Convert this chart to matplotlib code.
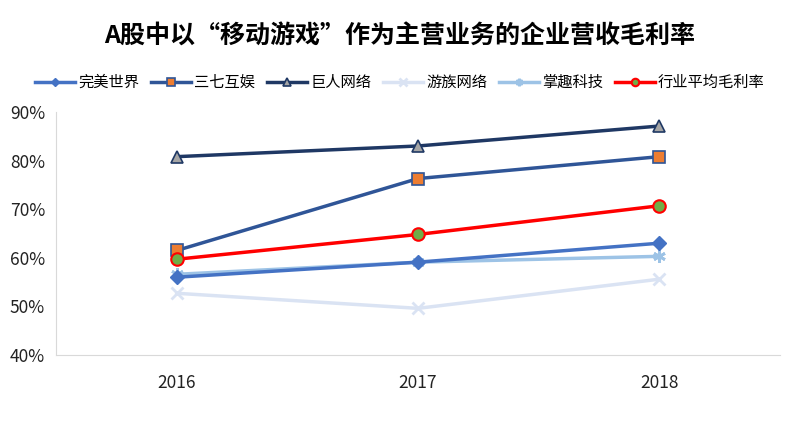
import matplotlib.pyplot as plt
from matplotlib.ticker import PercentFormatter

plt.rcParams['font.family'] = ['Noto Sans CJK SC', 'DejaVu Sans']

years = ['2016', '2017', '2018']
wanmei = [56.0, 59.1, 63.0]
sanqi = [61.5, 76.3, 80.8]
juren = [80.8, 83.0, 87.1]
youzu = [52.7, 49.6, 55.6]
zhangqu = [56.6, 59.1, 60.3]
avg = [59.7, 64.8, 70.7]

fig = plt.figure(figsize=(8, 4.46), dpi=100)
ax = fig.add_axes([0.07, 0.204, 0.905, 0.545])
x = range(len(years))

ax.plot(x, wanmei, color='#4472C4', lw=2.5, marker='D', ms=7,
        mfc='#4472C4', mec='#4472C4', label='完美世界', zorder=4)
ax.plot(x, sanqi, color='#2F5597', lw=2.5, marker='s', ms=9,
        mfc='#ED7D31', mec='#2F5597', mew=1.2, label='三七互娱', zorder=5)
ax.plot(x, juren, color='#1F3864', lw=2.5, marker='^', ms=9,
        mfc='#A5A5A5', mec='#1F3864', mew=1.2, label='巨人网络', zorder=5)
ax.plot(x, youzu, color='#DAE3F3', lw=2.5, marker='x', ms=9, mew=2,
        mec='#DAE3F3', label='游族网络', zorder=3)
ax.plot(x, zhangqu, color='#9DC3E6', lw=2.5, marker=(6, 2, 0), ms=9, mew=2,
        mec='#9DC3E6', label='掌趣科技', zorder=3)
ax.plot(x, avg, color='#FF0000', lw=2.5, marker='o', ms=9,
        mfc='#70AD47', mec='#FF0000', mew=1.5, label='行业平均毛利率', zorder=6)

ax.set_xlim(-0.5, 2.5)
ax.set_ylim(40, 90)
ax.set_xticks(list(x))
ax.set_xticklabels(years)
ax.yaxis.set_major_formatter(PercentFormatter(decimals=0))
ax.tick_params(length=0, colors='#222222')
ax.tick_params(axis='x', pad=14, labelsize=12.5)
ax.tick_params(axis='y', pad=8, labelsize=12.5)
for s in ['top', 'right']:
    ax.spines[s].set_visible(False)
for s in ['left', 'bottom']:
    ax.spines[s].set_color('#D9D9D9')

fig.suptitle('A股中以“移动游戏”作为主营业务的企业营收毛利率', x=0.5, y=0.945,
             fontsize=18, fontweight='bold')
fig.legend(loc='center', bbox_to_anchor=(0.5, 0.815), ncol=6, frameon=False,
           fontsize=11, handlelength=2.6, handletextpad=0.2, columnspacing=0.8,
           markerscale=0.6)

fig.savefig('out.png', dpi=100)
